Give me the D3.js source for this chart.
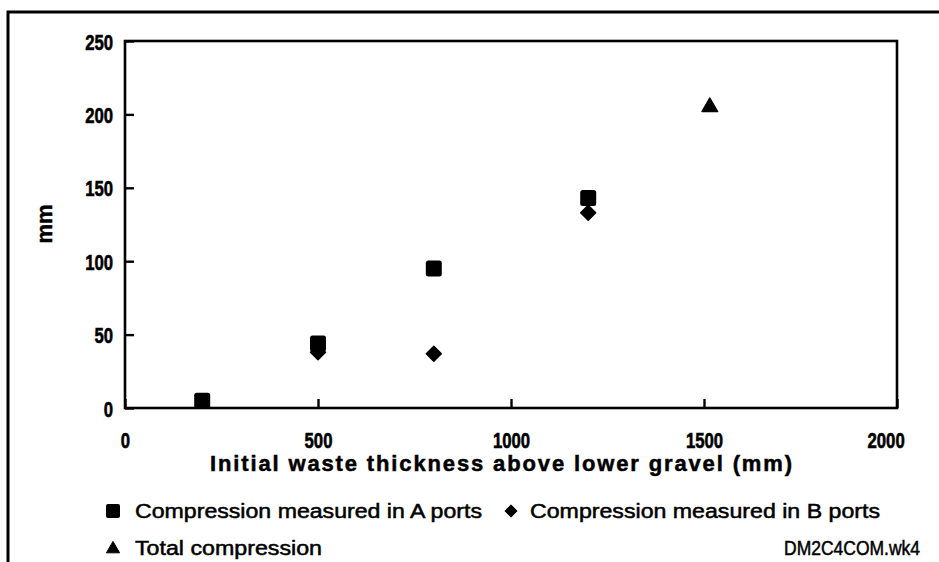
<!DOCTYPE html>
<html>
<head>
<meta charset="utf-8">
<script src="https://cdn.jsdelivr.net/npm/d3@7"></script>
<style>
  html, body { margin: 0; padding: 0; background: #fff; }
  svg { display: block; }
  text { font-family: "Liberation Sans", Arial, sans-serif; fill: #000; }
</style>
</head>
<body>
<svg id="chart" width="939" height="562"></svg>
<script>
// Waste compression measurements versus initial waste thickness
const thicknessA = [200, 500, 800, 1200];
const compressionA = [5, 44, 95, 143];
const thicknessB = [500, 800, 1200];
const compressionB = [38, 37, 133];
const thicknessTotal = [1515];
const compressionTotal = [205];

const xTicks = [0, 500, 1000, 1500, 2000];
const yTicks = [0, 50, 100, 150, 200, 250];

const xTitle = "Initial waste thickness above lower gravel (mm)";
const yTitle = "mm";
const legendA = "Compression measured in A ports";
const legendB = "Compression measured in B ports";
const legendT = "Total compression";
const fileTag = "DM2C4COM.wk4";

const svg = d3.select("#chart");
const plot = { left: 125, right: 897, top: 41, bottom: 408 };

const x = d3.scaleLinear().domain([0, 2000]).range([plot.left, plot.right]);
const y = d3.scaleLinear().domain([0, 250]).range([plot.bottom, plot.top]);

// outer frame (left and top edges)
svg.append("path")
  .attr("d", "M8,562 L8,12 L939,12")
  .attr("fill", "none").attr("stroke", "#000").attr("stroke-width", 3);

// plot frame
svg.append("rect")
  .attr("x", plot.left).attr("y", plot.top)
  .attr("width", plot.right - plot.left).attr("height", plot.bottom - plot.top)
  .attr("fill", "none").attr("stroke", "#000").attr("stroke-width", 2.6);

// axes with inward ticks
const xAxis = svg.append("g")
  .attr("transform", `translate(0,${plot.bottom})`)
  .call(d3.axisBottom(x).tickValues(xTicks).tickSize(-9).tickFormat(d3.format("d")));
const yAxis = svg.append("g")
  .attr("transform", `translate(${plot.left},0)`)
  .call(d3.axisLeft(y).tickValues(yTicks).tickSize(-9).tickFormat(d3.format("d")));

[xAxis, yAxis].forEach(g => {
  g.select(".domain").remove();
  g.selectAll(".tick line").attr("stroke", "#000").attr("stroke-width", 2.4);
  g.selectAll(".tick text")
    .style("font-family", "'Liberation Sans', Arial, sans-serif")
    .style("font-weight", "bold")
    .style("font-size", "22px")
    .style("stroke", "#000").style("stroke-width", 0.6);
});

xAxis.selectAll(".tick text")
  .attr("y", 0).attr("dy", null)
  .attr("transform", "translate(0,40) scale(0.76,1)")
  .attr("x", d => d === 2000 ? -15 : 0);

yAxis.selectAll(".tick text")
  .attr("x", 0).attr("dy", null)
  .attr("transform", "translate(-12,8) scale(0.76,1)");

// axis titles
svg.append("text")
  .attr("x", (plot.left + plot.right) / 2 - 10).attr("y", 471)
  .attr("text-anchor", "middle")
  .attr("textLength", 582).attr("lengthAdjust", "spacing")
  .style("font-weight", "bold").style("font-size", "22px")
  .style("stroke", "#000").style("stroke-width", 0.5)
  .text(xTitle);

svg.append("text")
  .attr("transform", "translate(52,224) rotate(-90)")
  .attr("text-anchor", "middle")
  .style("font-weight", "bold").style("font-size", "22px")
  .style("stroke", "#000").style("stroke-width", 0.5)
  .text(yTitle);

// markers
const squareSide = 16;
const squares = d3.zip(thicknessA, compressionA);
const diamonds = d3.zip(thicknessB, compressionB);
const triangles = d3.zip(thicknessTotal, compressionTotal);

const diamondPath = d3.symbol().type(d3.symbolSquare).size(112)();
const trianglePath = d3.symbol().type(d3.symbolTriangle).size(105)();

svg.append("g").selectAll("path")
  .data(diamonds).join("path")
  .attr("d", diamondPath)
  .attr("transform", d => `translate(${x(d[0])},${y(d[1])}) rotate(45)`)
  .attr("fill", "#000").attr("stroke", "#000").attr("stroke-width", 1.5)
  .attr("stroke-linejoin", "round");

svg.append("g").selectAll("rect")
  .data(squares).join("rect")
  .attr("x", d => x(d[0]) - squareSide / 2)
  .attr("y", d => y(d[1]) - squareSide / 2)
  .attr("width", squareSide).attr("height", squareSide)
  .attr("rx", 2.5)
  .attr("fill", "#000");

svg.append("g").selectAll("path")
  .data(triangles).join("path")
  .attr("d", trianglePath)
  .attr("transform", d => `translate(${x(d[0])},${y(d[1])})`)
  .attr("fill", "#000").attr("stroke", "#000").attr("stroke-width", 1.5)
  .attr("stroke-linejoin", "round");

// legend
const legend = svg.append("g");
legend.append("rect")
  .attr("x", 106).attr("y", 504).attr("width", 14).attr("height", 14).attr("rx", 2)
  .attr("fill", "#000");
legend.append("path")
  .attr("d", d3.symbol().type(d3.symbolSquare).size(70)())
  .attr("transform", "translate(511,511) rotate(45)")
  .attr("fill", "#000").attr("stroke", "#000").attr("stroke-linejoin", "round");
legend.append("path")
  .attr("d", d3.symbol().type(d3.symbolTriangle).size(75)())
  .attr("transform", "translate(113,549)")
  .attr("fill", "#000").attr("stroke", "#000").attr("stroke-linejoin", "round");

const legendText = [
  { t: legendA, x: 135, y: 518, len: 347, anchor: "start" },
  { t: legendB, x: 530, y: 518, len: 350, anchor: "start" },
  { t: legendT, x: 135, y: 555, len: 187, anchor: "start" },
  { t: fileTag, x: 920, y: 555, len: 136, anchor: "end" }
];
legend.selectAll("text.leg")
  .data(legendText).join("text")
  .attr("class", "leg")
  .attr("x", d => d.x).attr("y", d => d.y)
  .attr("text-anchor", d => d.anchor)
  .attr("textLength", d => d.len).attr("lengthAdjust", "spacingAndGlyphs")
  .style("font-size", "20px")
  .style("stroke", "#000").style("stroke-width", 0.5)
  .text(d => d.t);
</script>
</body>
</html>
